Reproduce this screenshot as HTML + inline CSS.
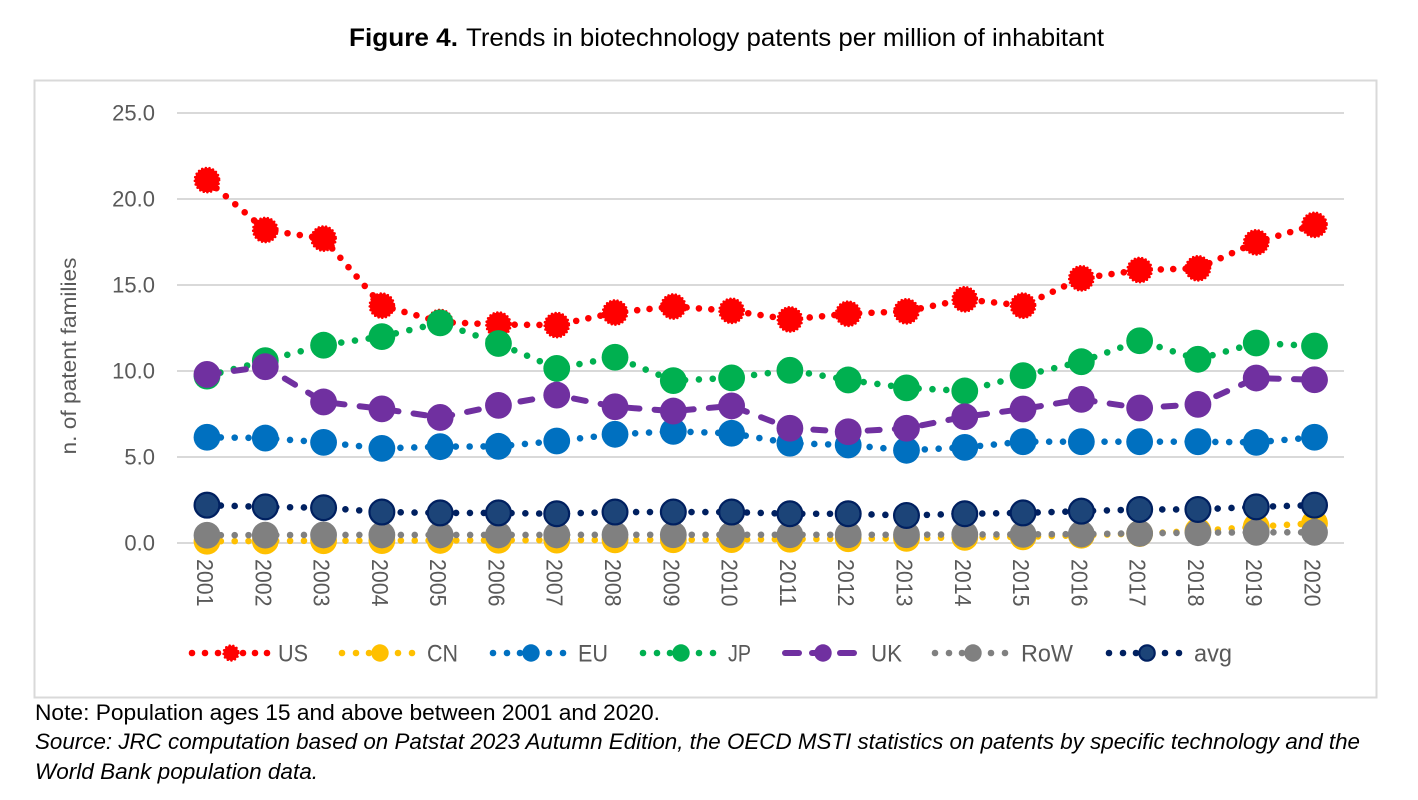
<!DOCTYPE html>
<html lang="en">
<head>
<meta charset="utf-8">
<title>Trends in biotechnology patents</title>
<style>
html,body{margin:0;padding:0;background:#fff;width:1418px;height:800px;overflow:hidden}
svg{display:block;font-family:"Liberation Sans",Arial,sans-serif}
</style>
</head>
<body>
<svg id="chart" width="1418" height="800" viewBox="0 0 1418 800">
  <text x="349" y="46" font-size="25" font-weight="bold" fill="#000" textLength="109" lengthAdjust="spacingAndGlyphs">Figure 4.</text>
  <text x="466" y="46" font-size="25" fill="#000" textLength="638" lengthAdjust="spacingAndGlyphs">Trends in biotechnology patents per million of inhabitant</text>
  <rect x="34.5" y="80.5" width="1342" height="617" fill="#fff" stroke="#d9d9d9" stroke-width="2"></rect>
  <g id="grid"></g>
  <g id="yticks"></g>
  <g id="xticks"></g>
  <text transform="translate(76,356) rotate(-90)" text-anchor="middle" font-size="21" fill="#595959" textLength="197" lengthAdjust="spacingAndGlyphs">n. of patent families</text>
  <g id="series"></g>
  <g id="legend"></g>
  <text x="35" y="720" font-size="22" fill="#000" textLength="625" lengthAdjust="spacingAndGlyphs">Note: Population ages 15 and above between 2001 and 2020.</text>
  <text x="35" y="749" font-size="22" font-style="italic" fill="#000" textLength="1325" lengthAdjust="spacingAndGlyphs">Source: JRC computation based on Patstat 2023 Autumn Edition, the OECD MSTI statistics on patents by specific technology and the</text>
  <text x="35" y="779" font-size="22" font-style="italic" fill="#000" textLength="283" lengthAdjust="spacingAndGlyphs">World Bank population data.</text>
</svg>
<script>
const years = ["2001","2002","2003","2004","2005","2006","2007","2008","2009","2010","2011","2012","2013","2014","2015","2016","2017","2018","2019","2020"];
const yTickValues = [0,5,10,15,20,25];
const yTickLabels = ["0.0","5.0","10.0","15.0","20.0","25.0"];
const seriesNames = ["US","CN","EU","JP","UK","RoW","avg"];
const usValues  = [21.1,18.2,17.7,13.8,12.85,12.7,12.67,13.4,13.75,13.5,13.0,13.33,13.47,14.17,13.8,15.39,15.87,15.97,17.48,18.5];
const cnValues  = [0.1,0.12,0.13,0.14,0.15,0.16,0.17,0.18,0.19,0.2,0.22,0.25,0.27,0.33,0.36,0.45,0.55,0.7,0.95,1.15];
const euValues  = [6.15,6.1,5.85,5.5,5.6,5.62,5.93,6.32,6.49,6.38,5.8,5.7,5.39,5.56,5.89,5.89,5.89,5.89,5.85,6.15];
const jpValues  = [9.7,10.6,11.5,12.0,12.8,11.6,10.15,10.8,9.44,9.6,10.04,9.48,9.02,8.84,9.73,10.54,11.76,10.68,11.63,11.45];
const ukValues  = [9.8,10.25,8.2,7.8,7.3,8.0,8.6,7.92,7.67,7.97,6.67,6.47,6.67,7.34,7.79,8.35,7.85,8.06,9.59,9.49];
const rowValues = [0.45,0.46,0.47,0.47,0.47,0.47,0.47,0.48,0.48,0.48,0.48,0.48,0.48,0.5,0.5,0.52,0.56,0.6,0.62,0.62];
const avgValues = [2.2,2.1,2.05,1.8,1.75,1.75,1.7,1.8,1.8,1.8,1.7,1.7,1.6,1.7,1.75,1.85,1.95,1.95,2.1,2.2];

const NS = "http://www.w3.org/2000/svg";
const plot = {x0:207, step:58.29, y0:543, unit:17.2, left:177, right:1344};
const xScale = i => plot.x0 + i * plot.step;
const yScale = v => plot.y0 - v * plot.unit;
const styles = [
  {color:"#ff0000", fill:"#ff0000", values:usValues, slug:"us", ragged:true, period:12.4},
  {color:"#ffc000", fill:"#ffc000", values:cnValues, slug:"cn", period:13.85},
  {color:"#0070c0", fill:"#0070c0", values:euValues, slug:"eu", period:13.85},
  {color:"#00b050", fill:"#00b050", values:jpValues, slug:"jp", period:13.85},
  {color:"#7030a0", fill:"#7030a0", values:ukValues, slug:"uk", dashed:true},
  {color:"#808080", fill:"#808080", values:rowValues, slug:"row", period:13.85},
  {color:"#002060", fill:"#1c4478", values:avgValues, slug:"avg", outlined:true, period:13.85}
];
function mk(tag, attrs, parent){
  const el = document.createElementNS(NS, tag);
  for (const k in attrs) el.setAttribute(k, attrs[k]);
  parent.appendChild(el);
  return el;
}
function drawMarker(parent, cx, cy, r, st){
  const c = mk("circle", {cx:cx, cy:cy, r:r, fill:st.fill}, parent);
  
  
  if (st.ragged){
    c.setAttribute("r", r - 1.3);
    c.setAttribute("stroke", st.color);
    c.setAttribute("stroke-width", 2.6);
    c.setAttribute("stroke-linecap", "round");
    c.setAttribute("stroke-dasharray", "0 3.7");
  }
  if (st.outlined){
    c.setAttribute("r", r - 1);
    c.setAttribute("stroke", st.color);
    c.setAttribute("stroke-width", 2.2);
  }
}
function lineAttrs(st){
  return st.dashed
    ? {stroke:st.color, "stroke-width":6, "stroke-linecap":"round", "stroke-dasharray":"12 15.2", fill:"none"}
    : {stroke:st.color, "stroke-width":6.6, "stroke-linecap":"round", "stroke-dasharray":"0 " + st.period, fill:"none"};
}
const grid = document.getElementById("grid");
const yt = document.getElementById("yticks");
yTickValues.forEach((v, i) => {
  const l = mk("line", {x1:plot.left, x2:plot.right, y1:yScale(v), y2:yScale(v), stroke:"#d9d9d9", "stroke-width":2}, grid);
  
  
  const t = mk("text", {x:155, y:yScale(v) + 7.5, "text-anchor":"end", "font-size":22, fill:"#595959"}, yt);
  
  
  t.textContent = yTickLabels[i];
});
const xt = document.getElementById("xticks");
years.forEach((y, i) => {
  const t = mk("text", {transform:"translate(" + (xScale(i) - 10) + ",559) rotate(90)", "font-size":23, fill:"#595959", textLength:47.5, lengthAdjust:"spacingAndGlyphs"}, xt);
  
  
  t.textContent = y;
});
const sg = document.getElementById("series");
styles.forEach(st => {
  const g = mk("g", {}, sg);
  
  
  const pts = st.values.map((v, i) => xScale(i) + "," + yScale(v)).join(" ");
  const line = mk("polyline", Object.assign({points:pts}, lineAttrs(st)), g);
  
  
  st.values.forEach((v, i) => drawMarker(g, xScale(i), yScale(v), 13.4, st));
});
const lg = document.getElementById("legend");
const legendMarkerX = [231,380,531,681,823,973,1147];
const legendTextX = [278,427,578,728,871,1021,1194];
const legendTextW = [30,31,30,23,31,52,38];
seriesNames.forEach((name, i) => {
  const st = styles[i], mx = legendMarkerX[i], ly = 653;
  const g = mk("g", {}, lg);
  
  
  if (st.dashed){
    [[-38,-24],[-11,0],[17,31]].forEach(p => {
      const s = mk("line", {x1:mx+p[0], x2:mx+p[1], y1:ly, y2:ly, stroke:st.color, "stroke-width":6, "stroke-linecap":"round"}, g);
      
      
    });
  } else {
    const offs = st.ragged ? [-39,-26,-13,12,24,36] : [-38,-24,-11,18,32];
    offs.forEach(d => {
      const s = mk("circle", {cx:mx+d, cy:ly, r:3.3, fill:st.color}, g);
      
      
    });
  }
  drawMarker(g, mx, ly, 8.7, st);
  const t = mk("text", {x:legendTextX[i], y:ly+8.5, "font-size":24, fill:"#595959", textLength:legendTextW[i], lengthAdjust:"spacingAndGlyphs"}, g);
  
  
  t.textContent = name;
});
</script>
</body>
</html>
